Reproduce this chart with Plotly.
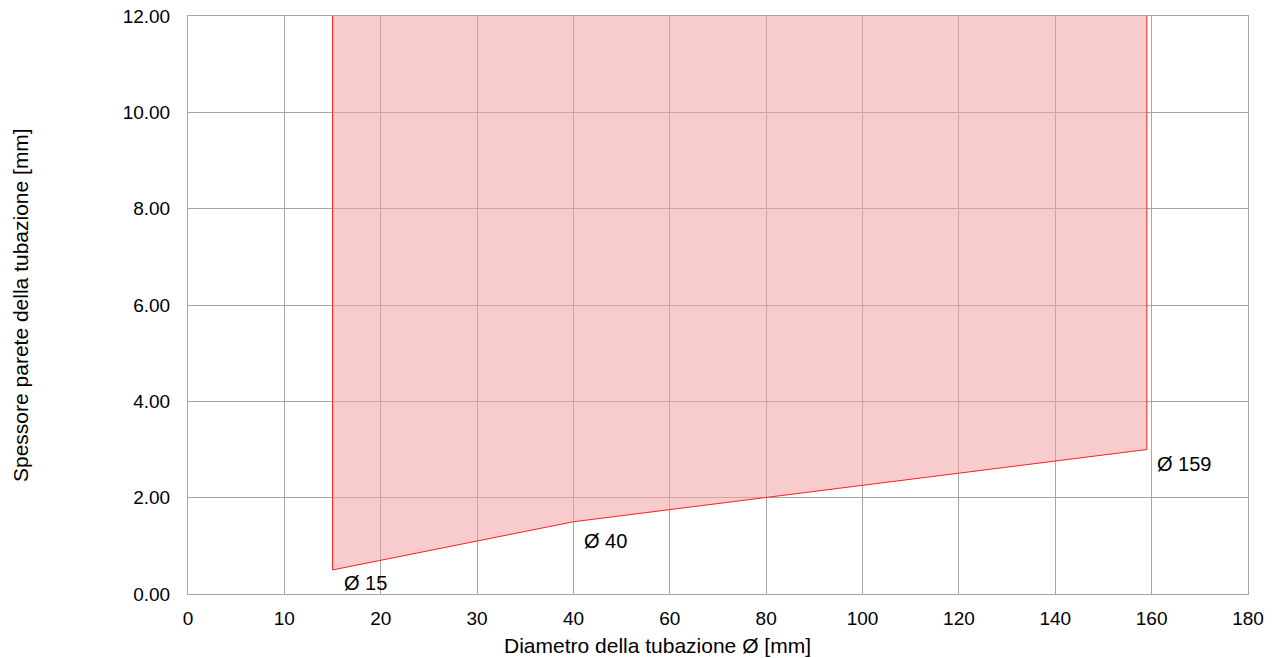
import numpy as np
import plotly.graph_objects as go

# Data
tick_values = [0, 10, 20, 30, 40, 60, 80, 100, 120, 140, 160, 180]
diam = [15, 40, 159]
thick = [0.5, 1.5, 3.0]
labels = ["Ø 15", "Ø 40", "Ø 159"]
y_top = 12.0
y_ticks = [0, 2, 4, 6, 8, 10, 12]

# piecewise axis mapping (equal spacing between uneven tick values)
def xpos(v):
    return np.interp(v, tick_values, np.arange(len(tick_values)))

px = [float(xpos(d)) for d in diam]
poly_x = px + [px[-1], px[0], px[0]]
poly_y = thick + [y_top, y_top, thick[0]]
edge_x = [px[0]] + px + [px[-1]]
edge_y = [y_top] + thick + [y_top]

fig = go.Figure()
fig.add_trace(go.Scatter(
    x=poly_x, y=poly_y, mode="lines", fill="toself",
    fillcolor="rgba(242,160,163,0.55)",
    line=dict(color="rgba(0,0,0,0)", width=0), hoverinfo="skip", showlegend=False))
fig.add_trace(go.Scatter(
    x=edge_x, y=edge_y, mode="lines",
    line=dict(color="#ff2020", width=1), hoverinfo="skip", showlegend=False))

shifts = [(9, -13), (9, -19), (8, -14)]
for x, y, t, (dx, dy) in zip(px, thick, labels, shifts):
    fig.add_annotation(x=x, y=y, text=t, showarrow=False, xanchor="left", yanchor="middle",
                       xshift=dx, yshift=dy, font=dict(size=20, color="#000"))

fig.add_annotation(text="Spessore parete della tubazione [mm]", xref="paper", yref="paper",
                   x=0, y=0.5, xshift=-168, yshift=0, textangle=-90, showarrow=False,
                   xanchor="center", yanchor="middle",
                   font=dict(size=21, color="#000"))
fig.add_annotation(text="Diametro della tubazione Ø [mm]", xref="paper", yref="paper",
                   x=(657 - 188) / (1248 - 188), y=0, yshift=-51, yanchor="middle",
                   xanchor="center", showarrow=False, font=dict(size=21, color="#000"))

fig.update_xaxes(range=[0, len(tick_values) - 1], tickvals=list(range(len(tick_values))),
                 ticktext=[str(v) for v in tick_values], showgrid=True, gridcolor="#a6a6a6",
                 gridwidth=1, zeroline=False, showline=True, linecolor="#a6a6a6", mirror=True,
                 ticks="outside", ticklen=7, tickcolor="rgba(0,0,0,0)", automargin=False,
                 ticklabeloverflow="allow", tickfont=dict(size=19, color="#000"))
fig.update_yaxes(range=[0, 12], tickvals=y_ticks, ticktext=[f"{v:.2f}" for v in y_ticks],
                 showgrid=True, gridcolor="#a6a6a6", gridwidth=1, zeroline=False,
                 showline=True, linecolor="#a6a6a6", mirror=True, automargin=False,
                 ticks="outside", ticklen=13, tickcolor="rgba(0,0,0,0)",
                 ticklabeloverflow="allow", tickfont=dict(size=19, color="#000"))

fig.update_layout(width=1272, height=658, margin=dict(l=188, r=24, t=16, b=64),
                  plot_bgcolor="white", paper_bgcolor="white", hovermode=False,
                  font=dict(family="Liberation Sans, Arial, sans-serif", color="#000"))

fig.write_html("out.html", config={"displayModeBar": False},
               post_script="document.body.style.margin='0';document.body.style.overflow='hidden';")
